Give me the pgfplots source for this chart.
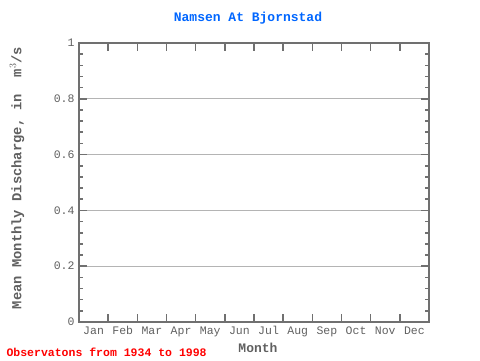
\documentclass[border=0pt]{standalone}
\usepackage{pgfplots}
\pgfplotsset{compat=1.18}
\usepackage{fontspec}
\setmainfont{Liberation Mono}
\definecolor{axgray}{HTML}{707070}
\definecolor{lblgray}{HTML}{606060}
\definecolor{gridgray}{HTML}{B4B4B4}
\definecolor{titleblue}{HTML}{0066FF}
\begin{document}
\begin{tikzpicture}
\useasboundingbox (0,0) rectangle (480pt,360pt);
\begin{axis}[
  scale only axis,
  width=350pt, height=279pt,
  at={(79pt,38pt)}, anchor=south west,
  xmin=0, xmax=12, ymin=0, ymax=1,
  axis line style={axgray, line width=1.6pt},
  xtick={1,...,11}, xticklabels={},
  extra x ticks={0.5,1.5,...,11.5},
  extra x tick labels={Jan,Feb,Mar,Apr,May,Jun,Jul,Aug,Sep,Oct,Nov,Dec},
  extra x tick style={major tick length=0pt, grid=none},
  ytick={0,0.2,...,1},
  yticklabels={0,0.2,0.4,0.6,0.8,1},
  minor y tick num=4,
  major tick length=8pt, minor tick length=4pt,
  tick style={axgray, line width=1.6pt},
  tick align=inside,
  xtick pos=both, ytick pos=both,
  ymajorgrids, grid style={gridgray, line width=0.8pt},
  /pgf/number format/assume math mode=true,
  ticklabel style={font=\fontsize{11.5}{13}\selectfont, text=lblgray},
  xticklabel style={yshift=-1pt},
  yticklabel style={xshift=-1pt},
]
\end{axis}
\node[font=\bfseries\fontsize{13}{15}\selectfont, text=titleblue] at (248pt,342pt) {Namsen At Bjornstad};
\node[font=\bfseries\fontsize{13}{15}\selectfont, text=lblgray] at (258pt,12pt) {Month};
\node[font=\bfseries\fontsize{13.8}{15}\selectfont, text=lblgray, rotate=90] at (17pt,182pt) {Mean Monthly Discharge, in \ m$^{3}$/s};
\node[font=\bfseries\fontsize{11.5}{13}\selectfont, text=red, anchor=west] at (3pt,8pt) {Observatons from 1934 to 1998};
\end{tikzpicture}
\end{document}
